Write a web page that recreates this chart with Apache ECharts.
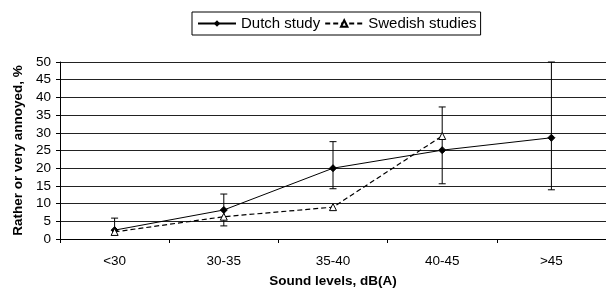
<!DOCTYPE html>
<html><head><meta charset="utf-8">
<script src="https://cdn.jsdelivr.net/npm/echarts@6/dist/echarts.min.js"></script>
<style>html,body{margin:0;padding:0;background:#fff}#c{width:606px;height:293px}</style>
</head><body><div id="c"></div>
<script>
var categories = ['<30', '30-35', '35-40', '40-45', '>45'];
var dutch = [2.5, 8.2, 20.0, 25.1, 28.6];
var swedish = [2.0, 6.3, 9.0, 29.1, null];
var errLow = [1.1, 3.7, 14.2, 15.6, 13.9];
var errHigh = [5.9, 12.7, 27.5, 37.3, 50];
var yTicks = [0, 5, 10, 15, 20, 25, 30, 35, 40, 45, 50];

var errData = categories.map(function (c, i) { return [i, errLow[i], errHigh[i]]; });
var font = 'Liberation Sans, Arial, sans-serif';
var chart = echarts.init(document.getElementById('c'), null, {renderer: 'canvas'});
chart.setOption({
  animation: false,
  backgroundColor: '#fff',
  textStyle: {fontFamily: font},
  legend: {
    top: 12, left: 192,
    padding: [4, 4, 4, 5],
    itemGap: 4,
    itemWidth: 38, itemHeight: 8,
    borderColor: '#000', borderWidth: 1,
    textStyle: {fontSize: 15, color: '#000', fontFamily: font},
    data: ['Dutch study', 'Swedish studies']
  },
  grid: {left: 60, right: -8, top: 62, bottom: 52},
  xAxis: {
    type: 'category', data: categories, boundaryGap: true,
    name: 'Sound levels, dB(A)', nameLocation: 'middle', nameGap: 35,
    nameTextStyle: {fontWeight: 'bold', fontSize: 13.5, color: '#000', fontFamily: font},
    axisLine: {lineStyle: {color: '#000', width: 1}},
    axisTick: {show: true, alignWithLabel: false, length: 4, lineStyle: {color: '#000'}},
    axisLabel: {fontSize: 13.5, color: '#000', margin: 15, fontFamily: font}
  },
  yAxis: {
    type: 'value', min: 0, max: 50, interval: 5,
    name: 'Rather or very annoyed, %', nameLocation: 'middle', nameGap: 34,
    nameTextStyle: {fontWeight: 'bold', fontSize: 13.5, color: '#000', fontFamily: font},
    axisLine: {show: true, lineStyle: {color: '#000', width: 1}},
    axisTick: {show: true, length: 4, lineStyle: {color: '#000'}},
    axisLabel: {fontSize: 13.5, color: '#000', margin: 9, fontFamily: font,
      formatter: function (v) { return yTicks.indexOf(v) >= 0 ? String(v) : ''; }},
    splitLine: {show: true, lineStyle: {color: '#222', width: 1}}
  },
  series: [
    {
      name: 'Dutch study', type: 'line', data: dutch,
      symbol: 'diamond', symbolSize: 7,
      itemStyle: {color: '#000', borderColor: '#000'},
      lineStyle: {color: '#000', width: 1, type: 'solid'},
      z: 3
    },
    {
      name: 'Swedish studies', type: 'line', data: swedish,
      symbol: 'triangle', symbolSize: 7, showAllSymbol: true,
      itemStyle: {color: '#fff', borderColor: '#000', borderWidth: 1},
      lineStyle: {color: '#000', width: 1.2, type: [5, 3]},
      z: 4
    },
    {
      name: 'err', type: 'custom', data: errData, z: 2,
      renderItem: function (params, api) {
        var x = api.value(0);
        var lo = api.coord([x, api.value(1)]);
        var hi = api.coord([x, api.value(2)]);
        var w = 3.5;
        var st = {stroke: '#000', lineWidth: 1};
        return {type: 'group', children: [
          {type: 'line', shape: {x1: lo[0], y1: lo[1], x2: hi[0], y2: hi[1]}, style: st},
          {type: 'line', shape: {x1: lo[0] - w, y1: lo[1], x2: lo[0] + w, y2: lo[1]}, style: st},
          {type: 'line', shape: {x1: hi[0] - w, y1: hi[1], x2: hi[0] + w, y2: hi[1]}, style: st}
        ]};
      }
    }
  ]
});
</script></body></html>
